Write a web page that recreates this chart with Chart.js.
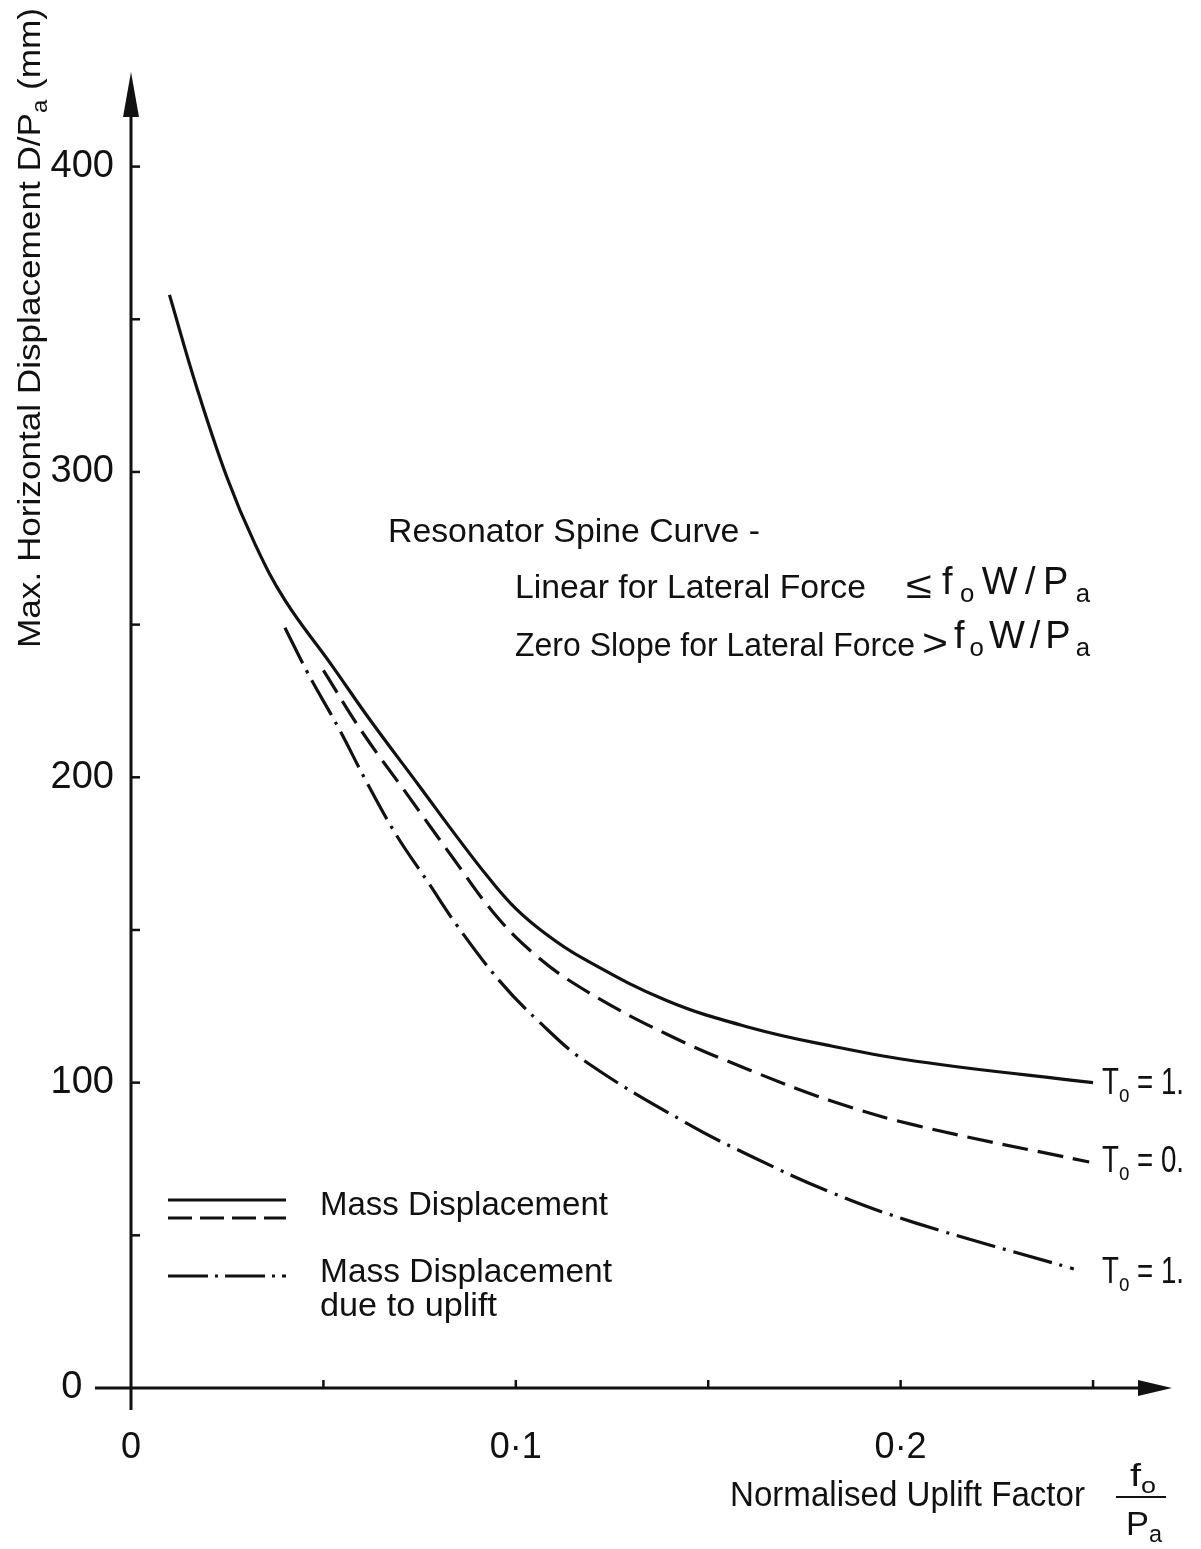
<!DOCTYPE html>
<html>
<head>
<meta charset="utf-8">
<script src="https://cdn.jsdelivr.net/npm/chart.js@4.4.0/dist/chart.umd.min.js"></script>
<style>
  html, body { margin: 0; padding: 0; background: #fff; }
  #wrap { width: 1201px; height: 1549px; position: relative; }
</style>
</head>
<body>
<div id="wrap"><canvas id="chart"></canvas></div>
<script>
// Kurven
const solidX = [0.010, 0.017, 0.025, 0.032, 0.040, 0.052, 0.062, 0.075, 0.085, 0.093, 0.100, 0.108, 0.117, 0.139, 0.161, 0.182, 0.204, 0.250];
const solidY = [358, 328, 298, 277, 258, 237, 219, 197, 180, 167, 157, 148.5, 141, 127, 118, 112, 107, 100];

const dashedX = [0.050, 0.060, 0.072, 0.084, 0.094, 0.104, 0.117, 0.139, 0.161, 0.182, 0.204, 0.249];
const dashedY = [235, 215, 194, 173, 156, 143, 131, 116, 104, 94, 86, 74];

const dashDotX = [0.040, 0.046, 0.054, 0.061, 0.069, 0.077, 0.085, 0.096, 0.106, 0.118, 0.144, 0.161, 0.182, 0.204, 0.245];
const dashDotY = [249, 234, 216, 199, 181, 166, 151, 133, 120, 107, 87, 76, 64, 54, 39];

// Achsen
const xTickValues = [0, 0.1, 0.2];
const xTickLabels = ['0', '0·1', '0·2'];
const yTickValues = [0, 100, 200, 300, 400];
const yTickLabels = ['0   ', '100', '200', '300', '400'];

// Endbeschriftungen
const endLabels = ['1.', '0.', '1.'];

const FONT = '"Liberation Sans", Arial, sans-serif';
const INK = '#111';

function toPoints(xs, ys) {
    return xs.map((x, i) => ({ x: x, y: ys[i] }));
}

// Text mit Indizes, auf Breite gestaucht
function drawParts(ctx, parts, x, y, size, width) {
    ctx.save();
    let total = 0;
    parts.forEach(p => {
        ctx.font = `${p.sub ? size * 0.68 : size}px ${FONT}`;
        total += ctx.measureText(p.t).width;
    });
    ctx.translate(x, y);
    if (width) ctx.scale(width / total, 1);
    let cx = 0;
    ctx.fillStyle = INK;
    ctx.textAlign = 'left';
    ctx.textBaseline = 'alphabetic';
    parts.forEach(p => {
        ctx.font = `${p.sub ? size * 0.68 : size}px ${FONT}`;
        ctx.fillText(p.t, cx, p.sub ? size * 0.22 : 0);
        cx += ctx.measureText(p.t).width;
    });
    ctx.restore();
}

// Text mit Indizes, Zeichen auseinandergezogen statt gestreckt
function drawSpaced(ctx, parts, x, y, size, width) {
    ctx.save();
    const glyphs = [];
    let total = 0;
    parts.forEach(p => {
        const f = `${p.sub ? size * 0.68 : size}px ${FONT}`;
        ctx.font = f;
        Array.from(p.t).forEach(ch => {
            const w = ctx.measureText(ch).width;
            glyphs.push({ ch: ch, f: f, w: w, dy: p.sub ? size * 0.22 : 0 });
            total += w;
        });
    });
    const gap = glyphs.length > 1 ? (width - total) / (glyphs.length - 1) : 0;
    ctx.fillStyle = INK;
    ctx.textAlign = 'left';
    ctx.textBaseline = 'alphabetic';
    let cx = x;
    glyphs.forEach(g => {
        ctx.font = g.f;
        ctx.fillText(g.ch, cx, y + g.dy);
        cx += g.w + gap;
    });
    ctx.restore();
}

function matchLabel(value, values, labels) {
    for (let i = 0; i < values.length; i++) {
        if (Math.abs(value - values[i]) < 1e-9) return labels[i];
    }
    return '';
}

const axesPlugin = {
    id: 'axesPlugin',
    beforeDraw(chart) {
        const ctx = chart.ctx;
        ctx.save();
        ctx.fillStyle = '#fff';
        ctx.fillRect(0, 0, chart.width, chart.height);
        ctx.restore();
    },
    afterDraw(chart) {
        const ctx = chart.ctx;
        const xs = chart.scales.x;
        const ys = chart.scales.y;
        const x0 = xs.getPixelForValue(0);
        const y0 = ys.getPixelForValue(0);
        const top = chart.chartArea.top;
        const right = chart.chartArea.right;

        ctx.save();
        ctx.strokeStyle = INK;
        ctx.fillStyle = INK;
        ctx.lineWidth = 3;

        // y-Achse mit Pfeil
        ctx.beginPath();
        ctx.moveTo(x0, y0 + 22);
        ctx.lineTo(x0, top + 30);
        ctx.stroke();
        ctx.beginPath();
        ctx.moveTo(x0, top - 3);
        ctx.lineTo(x0 - 8, top + 42);
        ctx.lineTo(x0 + 8, top + 42);
        ctx.closePath();
        ctx.fill();

        // x-Achse mit Pfeil
        ctx.beginPath();
        ctx.moveTo(x0 - 36, y0);
        ctx.lineTo(right - 20, y0);
        ctx.stroke();
        ctx.beginPath();
        ctx.moveTo(right + 2, y0);
        ctx.lineTo(right - 32, y0 - 8);
        ctx.lineTo(right - 32, y0 + 8);
        ctx.closePath();
        ctx.fill();

        // Teilstriche nach innen
        ctx.lineWidth = 2.5;
        xs.ticks.forEach(t => {
            if (t.value <= 0) return;
            const px = xs.getPixelForValue(t.value);
            ctx.beginPath();
            ctx.moveTo(px, y0);
            ctx.lineTo(px, y0 - 8);
            ctx.stroke();
        });
        ys.ticks.forEach(t => {
            if (t.value <= 0) return;
            const py = ys.getPixelForValue(t.value);
            ctx.beginPath();
            ctx.moveTo(x0, py);
            ctx.lineTo(x0 + 9, py);
            ctx.stroke();
        });
        ctx.restore();

        // y-Achsentitel
        ctx.save();
        ctx.translate(40, 648);
        ctx.rotate(-Math.PI / 2);
        drawParts(ctx, [{ t: 'Max. Horizontal Displacement D/P' }, { t: 'a', sub: true }, { t: ' (mm)' }], 0, 0, 32, 640);
        ctx.restore();

        // x-Achsentitel mit Bruch
        drawParts(ctx, [{ t: 'Normalised Uplift Factor' }], 730, 1506, 35, 355);
        drawParts(ctx, [{ t: 'f' }, { t: 'o', sub: true }], 1130, 1486, 32, 26);
        ctx.save();
        ctx.strokeStyle = INK;
        ctx.lineWidth = 2;
        ctx.beginPath();
        ctx.moveTo(1116, 1497);
        ctx.lineTo(1166, 1497);
        ctx.stroke();
        ctx.restore();
        drawParts(ctx, [{ t: 'P' }, { t: 'a', sub: true }], 1126, 1535, 34, 36);

        // Anmerkung
        drawParts(ctx, [{ t: 'Resonator Spine Curve -' }], 388, 542, 34, 372);
        drawParts(ctx, [{ t: 'Linear for Lateral Force' }], 515, 598, 34, 351);
        drawParts(ctx, [{ t: '≤' }], 906, 598, 38, 26);
        drawSpaced(ctx, [{ t: 'f' }, { t: 'o', sub: true }, { t: 'W/P' }, { t: 'a', sub: true }], 942, 594, 38, 148);
        drawParts(ctx, [{ t: 'Zero Slope for Lateral Force' }], 515, 656, 34, 400);
        drawParts(ctx, [{ t: '>' }], 922, 656, 38, 26);
        drawSpaced(ctx, [{ t: 'f' }, { t: 'o', sub: true }, { t: 'W/P' }, { t: 'a', sub: true }], 954, 648, 38, 136);

        // Legende
        ctx.save();
        ctx.strokeStyle = INK;
        ctx.lineWidth = 3;
        const legendLines = [
            { y: 1200, dash: [] },
            { y: 1218, dash: [24, 8] },
            { y: 1276, dash: [40, 7, 3, 7] }
        ];
        legendLines.forEach(l => {
            ctx.setLineDash(l.dash);
            ctx.beginPath();
            ctx.moveTo(168, l.y);
            ctx.lineTo(286, l.y);
            ctx.stroke();
        });
        ctx.restore();
        drawParts(ctx, [{ t: 'Mass Displacement' }], 320, 1215, 34, 288);
        drawParts(ctx, [{ t: 'Mass Displacement' }], 320, 1282, 34, 292);
        drawParts(ctx, [{ t: 'due to uplift' }], 320, 1316, 34, 177);

        // Kurvenenden
        const endY = [1094, 1172, 1283];
        endLabels.forEach((lab, i) => {
            drawParts(ctx, [{ t: 'T' }, { t: 'o', sub: true }, { t: ' = ' + lab }], 1102, endY[i], 36, 82);
        });
    }
};

const ctx = document.getElementById('chart').getContext('2d');

const chart = new Chart(ctx, {
    type: 'line',
    data: {
        datasets: [{
            label: 'Mass Displacement (solid)',
            data: toPoints(solidX, solidY),
            borderColor: INK,
            borderWidth: 3.2,
            borderDash: [],
            pointRadius: 0,
            tension: 0.4,
            fill: false
        }, {
            label: 'Mass Displacement (dashed)',
            data: toPoints(dashedX, dashedY),
            borderColor: INK,
            borderWidth: 3.2,
            borderDash: [26, 10],
            pointRadius: 0,
            tension: 0.4,
            fill: false
        }, {
            label: 'Mass Displacement due to uplift',
            data: toPoints(dashDotX, dashDotY),
            borderColor: INK,
            borderWidth: 3.2,
            borderDash: [40, 8, 3, 8],
            pointRadius: 0,
            tension: 0.4,
            fill: false
        }]
    },
    options: {
        responsive: true,
        maintainAspectRatio: false,
        animation: false,
        layout: {
            padding: { top: 75, right: 31, left: 0, bottom: 0 }
        },
        plugins: {
            legend: { display: false },
            tooltip: { enabled: false }
        },
        scales: {
            x: {
                type: 'linear',
                min: 0,
                max: 0.27,
                grid: { display: false },
                border: { display: false },
                afterFit: function (scale) { scale.height = 161; },
                ticks: {
                    stepSize: 0.05,
                    includeBounds: false,
                    autoSkip: false,
                    maxRotation: 0,
                    padding: 30,
                    color: INK,
                    font: { family: FONT, size: 36 },
                    callback: function (value) {
                        return matchLabel(value, xTickValues, xTickLabels);
                    }
                }
            },
            y: {
                type: 'linear',
                min: 0,
                max: 430,
                grid: { display: false },
                border: { display: false },
                afterFit: function (scale) { scale.width = 131; },
                ticks: {
                    stepSize: 50,
                    includeBounds: false,
                    autoSkip: false,
                    padding: 9,
                    color: INK,
                    font: { family: FONT, size: 38 },
                    callback: function (value) {
                        return matchLabel(value, yTickValues, yTickLabels);
                    }
                }
            }
        }
    },
    plugins: [axesPlugin]
});
</script>
</body>
</html>
